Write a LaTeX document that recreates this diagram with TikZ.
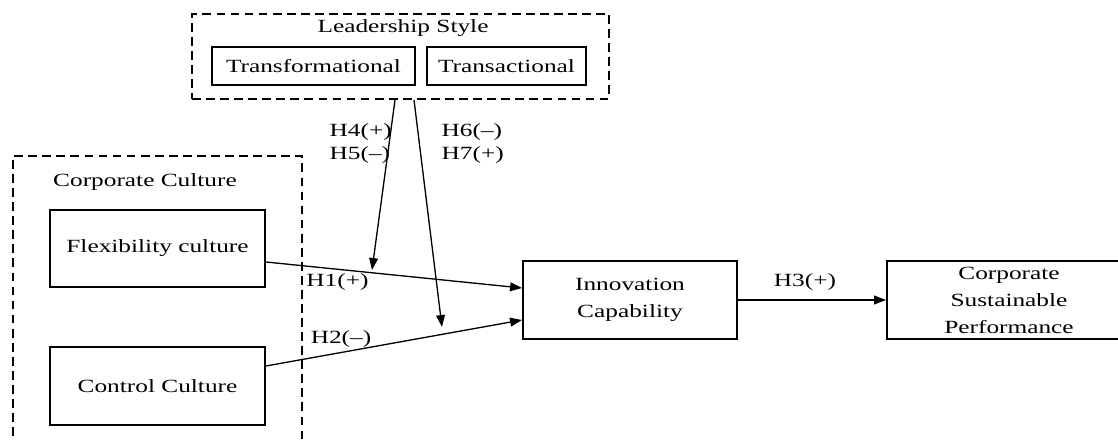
\documentclass[tikz,border=0pt]{standalone}
\usepackage{fontspec}
\setmainfont{Liberation Serif}[FakeStretch=1.36]
\usetikzlibrary{arrows.meta, positioning}

\begin{document}
\begin{tikzpicture}[x=0.2mm, y=-0.2mm, line width=0.75pt,
        font=\fontsize{10.6}{15.4}\selectfont,
        >={Triangle[length=6.8pt, width=5pt]},
        box/.style={draw, line width=1.1pt, inner sep=0pt, align=center},
        group/.style={draw, dash pattern=on 5pt off 3pt, line width=1.1pt},
        hyp/.style={inner sep=0pt, align=left, font=\fontsize{10.6}{13.2}\selectfont}]
        \useasboundingbox (0,0) rectangle (1118,441);
        % Define the groups
        \node[group, minimum width=83.4mm, minimum height=17mm] (lead) at (400.5,56.5) {};
        \node (leadtitle) at (403,28) {Leadership Style};
        \draw[group] (13,450) |- (302,156) -- (302,450);
        \node (culttitle) at (145,182) {Corporate Culture};
        % Define the nodes
        \node[box, minimum width=40.6mm, minimum height=7.6mm] (transf) at (313.5,66) {Transformational};
        \node[box, minimum width=31.8mm, minimum height=7.6mm] (transa) at (506.5,66) {Transactional};
        \node[box, minimum width=43mm, minimum height=15.4mm] (flex) at (157.5,248.5) {Flexibility culture};
        \node[box, minimum width=43mm, minimum height=15.6mm] (ctrl) at (157.5,386) {Control Culture};
        \node[box, minimum width=42.8mm, minimum height=15.6mm] (innov) at (630,300) {Innovation\\Capability};
        \node[box, minimum width=48.8mm, minimum height=15.6mm] (csp) at (1009,300) {Corporate\\Sustainable\\Performance};
        \coordinate (mod1) at (372,270);
        \coordinate (mod2) at (442,327);
        % Define the paths
        \path[->]
        ([yshift=-2.7mm]flex.east) edge ([yshift=2.4mm]innov.west)
        ([yshift=4mm]ctrl.east) edge ([yshift=-4mm]innov.west)
        (innov) edge (csp)
        ([xshift=-1.1mm]lead.south) edge (mod1)
        ([xshift=2.7mm]lead.south) edge (mod2);
        % Hypothesis labels
        \node[hyp] (h1) at (337.5,282) {H1(+)};
        \node[hyp] (h2) at (341,339) {H2(--)};
        \node[hyp] (h3) at (805,282) {H3(+)};
        \node[hyp, anchor=west] (h45) at (329,143.5) {H4(+)\\H5(--)};
        \node[hyp, anchor=west] (h67) at (441,143.5) {H6(--)\\H7(+)};
\end{tikzpicture}
\end{document}
